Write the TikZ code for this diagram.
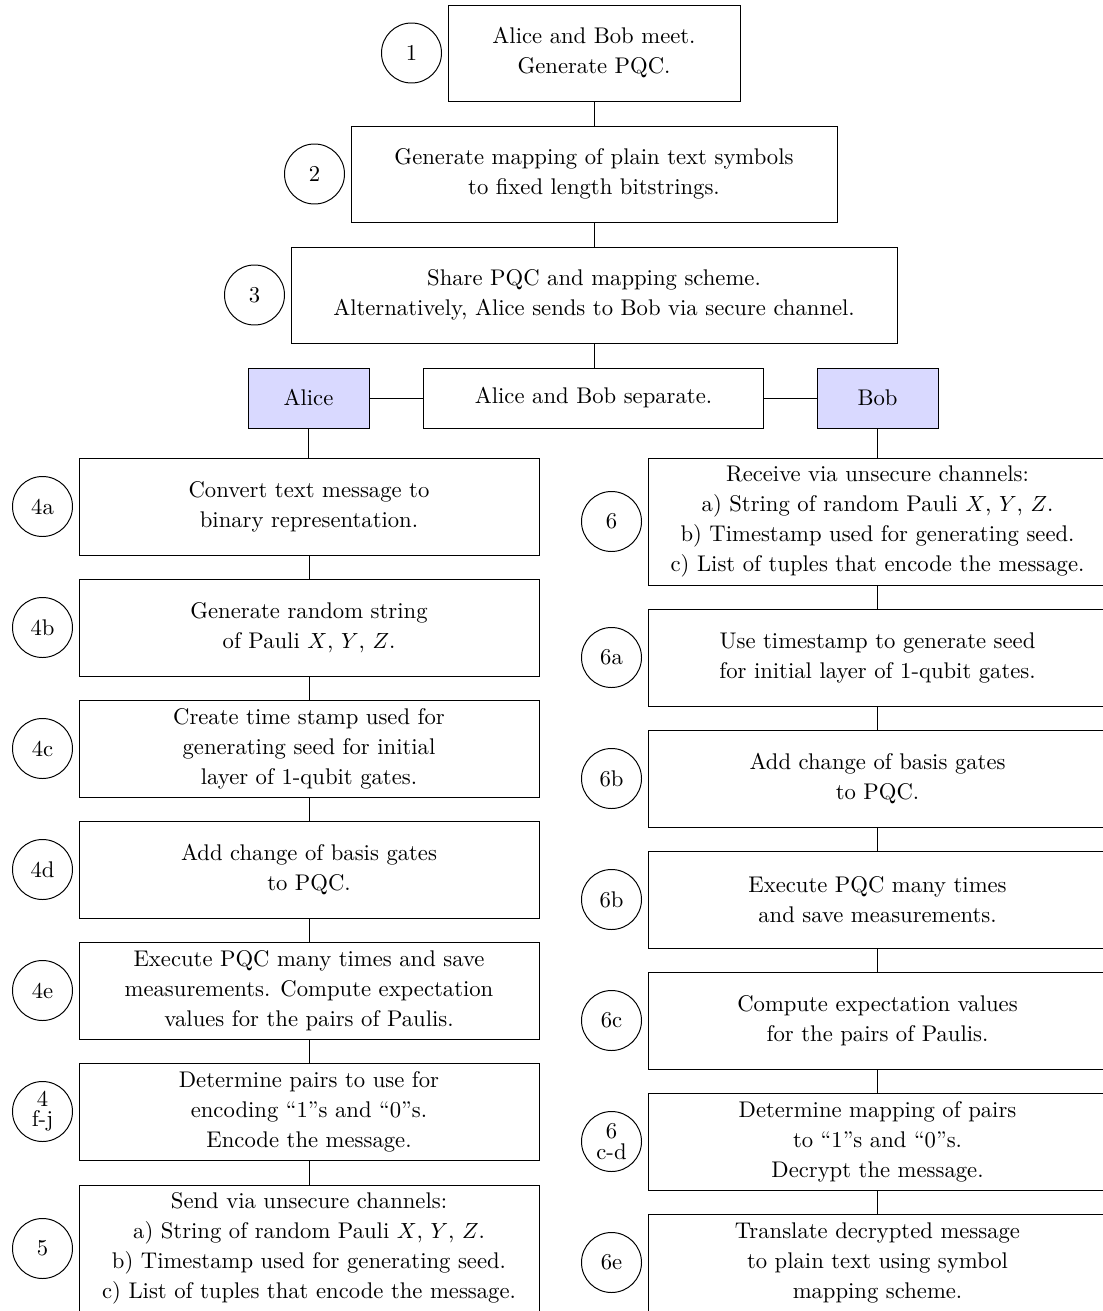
\documentclass[tikz,border=0pt]{standalone}
\usetikzlibrary{positioning}
\def\pxu{0.4566pt}
\tikzset{
  box/.style={draw, rectangle, align=center, inner sep=0pt, line width=0.45pt,
    font=\fontsize{10.35}{13.7}\selectfont},
  lbox/.style={box, minimum width=460*\pxu, minimum height=97*\pxu},
  rbox/.style={box, minimum width=459*\pxu, minimum height=97*\pxu},
  tallbox/.style={minimum height=127*\pxu},
  who/.style={box, fill=blue!15, minimum width=121*\pxu, minimum height=60*\pxu},
  num/.style={draw, circle, minimum size=60*\pxu, inner sep=0pt, align=center, line width=0.45pt,
    font=\fontsize{10.35}{9.2}\selectfont},
  link/.style={draw, line width=0.45pt}
}
\begin{document}
\begin{tikzpicture}[x=0.4566pt, y=-0.4566pt]
\useasboundingbox (0,0) rectangle (1103,1311);
\clip (0,0) rectangle (1103,1311);
% top part
\node[box, minimum width=292*\pxu, minimum height=96*\pxu] (b1) at (594,53) {Alice and Bob meet.\\Generate PQC.};
\node[num] (n1) at (411.5,53) {1};
\node[box, minimum width=486*\pxu, minimum height=96*\pxu] (b2) at (594,174) {Generate mapping of plain text symbols\\to fixed length bitstrings.};
\node[num] (n2) at (314.5,174) {2};
\node[box, minimum width=606*\pxu, minimum height=96*\pxu] (b3) at (594,295) {Share PQC and mapping scheme.\\Alternatively, Alice sends to Bob via secure channel.};
\node[num] (n3) at (254.5,295) {3};
\node[box, minimum width=340*\pxu, minimum height=60*\pxu] (sep) at (593.5,398) {Alice and Bob separate.};
\node[who] (alice) at (308.5,398) {Alice};
\node[who] (bob) at (877.5,398) {Bob};
% left column
\node[lbox] (a4a) at (309,506.5) {Convert text message to\\binary representation.};
\node[num] (m4a) at (42.5,506.5) {4a};
\node[lbox] (a4b) at (309,627.5) {Generate random string\\of Pauli $X$, $Y$, $Z$.};
\node[num] (m4b) at (42.5,627.5) {4b};
\node[lbox] (a4c) at (309,748.5) {Create time stamp used for\\generating seed for initial\\layer of 1-qubit gates.};
\node[num] (m4c) at (42.5,748.5) {4c};
\node[lbox] (a4d) at (309,869.5) {Add change of basis gates\\to PQC.};
\node[num] (m4d) at (42.5,869.5) {4d};
\node[lbox] (a4e) at (309,990.5) {Execute PQC many times and save\\measurements. Compute expectation\\values for the pairs of Paulis.};
\node[num] (m4e) at (42.5,990.5) {4e};
\node[lbox] (a4f) at (309,1111.5) {Determine pairs to use for\\encoding “1”s and “0”s.\\Encode the message.};
\node[num] (m4f) at (42.5,1111.5) {4\\f-j};
\node[lbox, tallbox] (a5) at (309,1248.5) {Send via unsecure channels:\\a) String of random Pauli $X$, $Y$, $Z$.\\b) Timestamp used for generating seed.\\c) List of tuples that encode the message.};
\node[num] (m5) at (42.5,1248.5) {5};
% right column
\node[rbox, tallbox] (r6) at (877.5,521.5) {Receive via unsecure channels:\\a) String of random Pauli $X$, $Y$, $Z$.\\b) Timestamp used for generating seed.\\c) List of tuples that encode the message.};
\node[num] (k6) at (611.5,521.5) {6};
\node[rbox] (r6a) at (877.5,657.5) {Use timestamp to generate seed\\for initial layer of 1-qubit gates.};
\node[num] (k6a) at (611.5,657.5) {6a};
\node[rbox] (r6b) at (877.5,778.5) {Add change of basis gates\\to PQC.};
\node[num] (k6b) at (611.5,778.5) {6b};
\node[rbox] (r6bb) at (877.5,899.5) {Execute PQC many times\\and save measurements.};
\node[num] (k6bb) at (611.5,899.5) {6b};
\node[rbox] (r6c) at (877.5,1020.5) {Compute expectation values\\for the pairs of Paulis.};
\node[num] (k6c) at (611.5,1020.5) {6c};
\node[rbox] (r6d) at (877.5,1141.5) {Determine mapping of pairs\\to “1”s and “0”s.\\Decrypt the message.};
\node[num] (k6d) at (611.5,1141.5) {6\\c-d};
\node[rbox] (r6e) at (877.5,1262.5) {Translate decrypted message\\to plain text using symbol\\mapping scheme.};
\node[num] (k6e) at (611.5,1262.5) {6e};
% connectors
\draw[link] (b1.south) -- (b1.south |- b2.north);
\draw[link] (b2.south) -- (b2.south |- b3.north);
\draw[link] (b3.south) -- (b3.south |- sep.north);
\draw[link] (alice.east) -- (sep.west);
\draw[link] (sep.east) -- (bob.west);
\draw[link] (alice.south) -- (alice.south |- a4a.north);
\draw[link] (a4a) -- (a4b);
\draw[link] (a4b) -- (a4c);
\draw[link] (a4c) -- (a4d);
\draw[link] (a4d) -- (a4e);
\draw[link] (a4e) -- (a4f);
\draw[link] (a4f) -- (a5);
\draw[link] (bob.south) -- (bob.south |- r6.north);
\draw[link] (r6) -- (r6a);
\draw[link] (r6a) -- (r6b);
\draw[link] (r6b) -- (r6bb);
\draw[link] (r6bb) -- (r6c);
\draw[link] (r6c) -- (r6d);
\draw[link] (r6d) -- (r6e);
\end{tikzpicture}
\end{document}
